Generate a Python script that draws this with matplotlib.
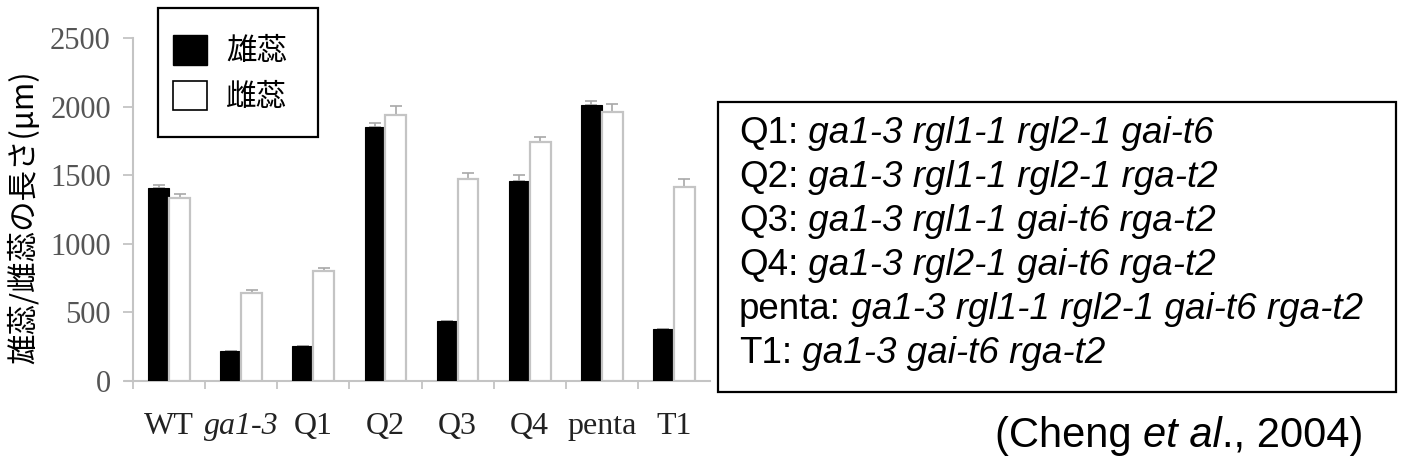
import numpy as np
import matplotlib
matplotlib.use("Agg")
import matplotlib.pyplot as plt
from matplotlib.patches import Patch, Rectangle

# ------------------- Data -------------------
categories = ["WT", "ga1-3", "Q1", "Q2", "Q3", "Q4", "penta", "T1"]
stamen = [1409, 219, 257, 1853, 440, 1458, 2012, 377]
stamen_err = [20, 0, 0, 25, 0, 46, 29, 0]
pistil = [1336, 639, 804, 1936, 1472, 1740, 1963, 1412]
pistil_err = [27, 24, 17, 68, 41, 41, 56, 62]

legend_labels = ["雄蕊", "雌蕊"]
ylabel = "雄蕊/雌蕊の長さ(μm)"
genotype_names = ["Q1:", "Q2:", "Q3:", "Q4:", "penta:", "T1:"]
genotypes = [
    "ga1-3 rgl1-1 rgl2-1 gai-t6",
    "ga1-3 rgl1-1 rgl2-1 rga-t2",
    "ga1-3 rgl1-1 gai-t6 rga-t2",
    "ga1-3 rgl2-1 gai-t6 rga-t2",
    "ga1-3 rgl1-1 rgl2-1 gai-t6 rga-t2",
    "ga1-3 gai-t6 rga-t2",
]

# ------------------- Layout helpers -------------------
W, H = 1404, 468
cjk = ["Noto Sans CJK JP", "DejaVu Sans"]
serif = "Liberation Serif"
sans = "Liberation Sans"
grey = "#c4c4c4"


def fx(px):
    return px / W


def fy(py):
    return 1 - py / H


def frame(x0, y0, x1, y1):
    # plain black box drawn in figure pixels (top-left origin)
    fig.add_artist(Rectangle((fx(x0), fy(y1)), fx(x1 - x0), (y1 - y0) / H,
                             transform=fig.transFigure, fill=False,
                             edgecolor="black", linewidth=1.6))


fig = plt.figure(figsize=(W / 100, H / 100), dpi=100)
ax = fig.add_axes([fx(133), fy(381), fx(710 - 133), (381 - 38) / H])

# ------------------- Bars -------------------
x = np.arange(len(categories))
w = 0.29
ax.bar(x - w / 2, stamen, w, color="black", edgecolor="black", linewidth=0.8, zorder=3)
ax.bar(x + w / 2, pistil, w, color="white", edgecolor=grey, linewidth=1.6, zorder=3)
zeros = np.zeros(len(x))
ax.errorbar(x - w / 2, stamen, yerr=[zeros, stamen_err], fmt="none",
            ecolor="#a8a8a8", elinewidth=1.2, capsize=4, capthick=1.2, zorder=2)
ax.errorbar(x + w / 2, pistil, yerr=[zeros, pistil_err], fmt="none",
            ecolor="#a8a8a8", elinewidth=1.2, capsize=4, capthick=1.2, zorder=2)

# ------------------- Axes styling -------------------
ax.set_xlim(-0.5, len(categories) - 0.5)
ax.set_ylim(0, 2500)
for s in ["top", "right"]:
    ax.spines[s].set_visible(False)
for s in ["left", "bottom"]:
    ax.spines[s].set_color(grey)
    ax.spines[s].set_linewidth(1.5)
# x axis line pokes a little past the y axis, as in the original
ax.spines["bottom"].set_bounds(-0.5 - 0.11, len(categories) - 0.5)

ax.set_yticks(np.arange(0, 2501, 500))
ax.tick_params(axis="y", length=7, width=1.3, color=grey, pad=9,
               labelsize=22, labelcolor="#555555")
for lab in ax.get_yticklabels():
    lab.set_family(serif)

ax.set_xticks(x)
ax.set_xticklabels(categories, family=serif, fontsize=23, color="#222222")
ax.get_xticklabels()[1].set_style("italic")
ax.tick_params(axis="x", which="major", length=0, pad=22)
ax.set_xticks(np.arange(-0.5, len(categories) - 1, 1), minor=True)
ax.tick_params(axis="x", which="minor", length=6, width=1.3, color=grey)

ax.set_ylabel(ylabel, family=cjk, fontsize=22)
ax.yaxis.set_label_coords(-0.160, 0.477)

# ------------------- Legend -------------------
frame(158, 8, 318, 137)
handles = [Patch(facecolor="black", edgecolor="black"),
           Patch(facecolor="white", edgecolor="black", linewidth=1.2)]
fig.legend(handles, legend_labels, loc="upper left",
           bbox_to_anchor=(fx(173), fy(35)), prop={"family": cjk, "size": 22},
           frameon=False, borderpad=0, handlelength=1.11, handleheight=1.11,
           handletextpad=0.62, labelspacing=0.45, borderaxespad=0)

# ------------------- Genotype box -------------------
frame(718, 102, 1396, 392)
line_gap = 44
for i, (name, geno) in enumerate(zip(genotype_names, genotypes)):
    t = fig.text(fx(739), fy(143 + i * line_gap), name, family=sans,
                 fontsize=26.5, va="baseline", ha="left")
    ax.annotate(" " + geno, xy=(1, 0), xycoords=t, va="bottom", ha="left",
                family=sans, style="italic", fontsize=26.5)

# ------------------- Citation -------------------
c1 = fig.text(fx(995), fy(447), "(Cheng ", family=sans, fontsize=30,
              va="baseline", ha="left")
c2 = ax.annotate("et al", xy=(1, 0), xycoords=c1, va="bottom", ha="left",
                 family=sans, style="italic", fontsize=30)
ax.annotate("., 2004)", xy=(1, 0), xycoords=c2, va="bottom", ha="left",
            family=sans, fontsize=30)

fig.savefig("out.png", dpi=100)
